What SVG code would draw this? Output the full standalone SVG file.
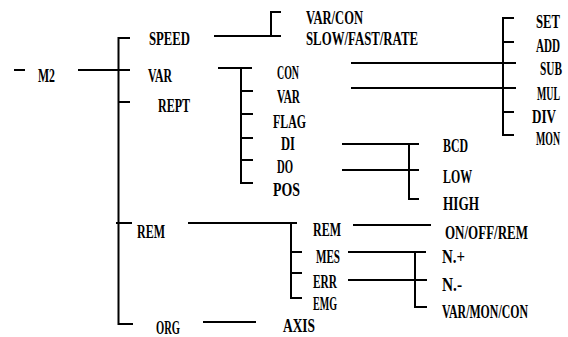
<svg xmlns="http://www.w3.org/2000/svg" width="568" height="337" viewBox="0 0 568 337">
<style>
.t{font-family:"Liberation Serif","Times New Roman",serif;font-weight:bold;font-size:15px;fill:#000}
.s{font-size:12px}
.c line{stroke:#000;stroke-width:2;stroke-linecap:butt}
</style>
<rect width="568" height="337" fill="#fff"/>
<g class="c" id="connectors">
<line x1="14" y1="70" x2="25" y2="70"/>
<line x1="78" y1="70" x2="130" y2="70"/>
<line x1="118.5" y1="37" x2="118.5" y2="325"/>
<line x1="118" y1="38" x2="130" y2="38"/>
<line x1="118" y1="102" x2="130" y2="102"/>
<line x1="116" y1="223" x2="132" y2="223"/>
<line x1="118" y1="324" x2="133" y2="324"/>
<line x1="214" y1="36" x2="281" y2="36"/>
<line x1="271" y1="11" x2="271" y2="36"/>
<line x1="271" y1="12" x2="281" y2="12"/>
<line x1="218" y1="68" x2="252" y2="68"/>
<line x1="241" y1="68" x2="241" y2="184"/>
<line x1="241" y1="91" x2="253" y2="91"/>
<line x1="241" y1="114" x2="253" y2="114"/>
<line x1="241" y1="138" x2="253" y2="138"/>
<line x1="241" y1="160" x2="253" y2="160"/>
<line x1="241" y1="183" x2="253" y2="183"/>
<line x1="351" y1="63" x2="516" y2="63"/>
<line x1="351" y1="88" x2="516" y2="88"/>
<line x1="503" y1="17" x2="503" y2="136"/>
<line x1="503" y1="18" x2="514" y2="18"/>
<line x1="503" y1="42" x2="514" y2="42"/>
<line x1="503" y1="112" x2="514" y2="112"/>
<line x1="503" y1="135" x2="514" y2="135"/>
<line x1="342" y1="144" x2="419" y2="144"/>
<line x1="342" y1="170" x2="419" y2="170"/>
<line x1="409" y1="144" x2="409" y2="200"/>
<line x1="409" y1="199" x2="419" y2="199"/>
<line x1="188" y1="223" x2="297" y2="223"/>
<line x1="291" y1="223" x2="291" y2="299"/>
<line x1="291" y1="252" x2="302" y2="252"/>
<line x1="291" y1="273" x2="302" y2="273"/>
<line x1="291" y1="298" x2="302" y2="298"/>
<line x1="353" y1="225" x2="431" y2="225"/>
<line x1="348" y1="252" x2="426" y2="252"/>
<line x1="348" y1="280" x2="427" y2="280"/>
<line x1="415" y1="252" x2="415" y2="308"/>
<line x1="415" y1="307" x2="427" y2="307"/>
<line x1="203" y1="322" x2="256" y2="322"/>
</g>
<g id="n-m2"><text class="t" transform="translate(38,82) scale(1,1.3)" textLength="17" lengthAdjust="spacingAndGlyphs">M2</text></g>
<g id="n-speed"><text class="t" transform="translate(149,45) scale(1,1.3)" textLength="41" lengthAdjust="spacingAndGlyphs">SPEED</text></g>
<g id="n-var"><text class="t" transform="translate(148,82) scale(1,1.3)" textLength="24" lengthAdjust="spacingAndGlyphs">VAR</text></g>
<g id="n-rept"><text class="t" transform="translate(158,112) scale(1,1.3)" textLength="32" lengthAdjust="spacingAndGlyphs">REPT</text></g>
<g id="n-varcon"><text class="t" transform="translate(306,24) scale(1,1.3)" textLength="57" lengthAdjust="spacingAndGlyphs">VAR/CON</text></g>
<g id="n-slow"><text class="t" transform="translate(306,45) scale(1,1.3)" textLength="112" lengthAdjust="spacingAndGlyphs">SLOW/FAST/RATE</text></g>
<g id="n-con"><text class="t" transform="translate(277,79) scale(1,1.3)" textLength="22" lengthAdjust="spacingAndGlyphs">CON</text></g>
<g id="n-var2"><text class="t" transform="translate(277,103) scale(1,1.3)" textLength="23" lengthAdjust="spacingAndGlyphs">VAR</text></g>
<g id="n-flag"><text class="t" transform="translate(273,128) scale(1,1.3)" textLength="33" lengthAdjust="spacingAndGlyphs">FLAG</text></g>
<g id="n-di"><text class="t" transform="translate(281,150) scale(1,1.3)" textLength="14" lengthAdjust="spacingAndGlyphs">DI</text></g>
<g id="n-do"><text class="t" transform="translate(277,173) scale(1,1.3)" textLength="16" lengthAdjust="spacingAndGlyphs">DO</text></g>
<g id="n-pos"><text class="t" transform="translate(273,196) scale(1,1.3)" textLength="27" lengthAdjust="spacingAndGlyphs">POS</text></g>
<g id="n-bcd"><text class="t" transform="translate(443,152) scale(1,1.3)" textLength="25" lengthAdjust="spacingAndGlyphs">BCD</text></g>
<g id="n-low"><text class="t" transform="translate(443,183) scale(1,1.3)" textLength="29" lengthAdjust="spacingAndGlyphs">LOW</text></g>
<g id="n-high"><text class="t" transform="translate(443,210) scale(1,1.3)" textLength="36" lengthAdjust="spacingAndGlyphs">HIGH</text></g>
<g id="n-set"><text class="t" transform="translate(536,28) scale(1,1.3)" textLength="24" lengthAdjust="spacingAndGlyphs">SET</text></g>
<g id="n-add"><text class="t" transform="translate(536,52) scale(1,1.3)" textLength="24" lengthAdjust="spacingAndGlyphs">ADD</text></g>
<g id="n-sub"><text class="t" transform="translate(540,75) scale(1,1.3)" textLength="22" lengthAdjust="spacingAndGlyphs">SUB</text></g>
<g id="n-mul"><text class="t s" transform="translate(537,100) scale(1,1.625)" textLength="23" lengthAdjust="spacingAndGlyphs">MUL</text></g>
<g id="n-div"><text class="t" transform="translate(532,123) scale(1,1.3)" textLength="24" lengthAdjust="spacingAndGlyphs">DIV</text></g>
<g id="n-mon"><text class="t s" transform="translate(536,145) scale(1,1.625)" textLength="24" lengthAdjust="spacingAndGlyphs">MON</text></g>
<g id="n-rem"><text class="t" transform="translate(137,238) scale(1,1.3)" textLength="28" lengthAdjust="spacingAndGlyphs">REM</text></g>
<g id="n-org"><text class="t" transform="translate(156,334) scale(1,1.3)" textLength="24" lengthAdjust="spacingAndGlyphs">ORG</text></g>
<g id="n-axis"><text class="t" transform="translate(283,332) scale(1,1.3)" textLength="32" lengthAdjust="spacingAndGlyphs">AXIS</text></g>
<g id="n-rem2"><text class="t" transform="translate(313,236) scale(1,1.3)" textLength="28" lengthAdjust="spacingAndGlyphs">REM</text></g>
<g id="n-mes"><text class="t" transform="translate(316,263) scale(1,1.3)" textLength="24" lengthAdjust="spacingAndGlyphs">MES</text></g>
<g id="n-err"><text class="t" transform="translate(313,288) scale(1,1.3)" textLength="24" lengthAdjust="spacingAndGlyphs">ERR</text></g>
<g id="n-emg"><text class="t" transform="translate(313,310) scale(1,1.3)" textLength="24" lengthAdjust="spacingAndGlyphs">EMG</text></g>
<g id="n-onoff"><text class="t" transform="translate(445,239) scale(1,1.3)" textLength="83" lengthAdjust="spacingAndGlyphs">ON/OFF/REM</text></g>
<g id="n-nplus"><text class="t" transform="translate(442,263) scale(1,1.3)" textLength="23" lengthAdjust="spacingAndGlyphs">N.+</text></g>
<g id="n-nminus"><text class="t" transform="translate(442,291) scale(1,1.3)" textLength="20" lengthAdjust="spacingAndGlyphs">N.-</text></g>
<g id="n-varmon"><text class="t" transform="translate(442,318) scale(1,1.3)" textLength="86" lengthAdjust="spacingAndGlyphs">VAR/MON/CON</text></g>
</svg>
